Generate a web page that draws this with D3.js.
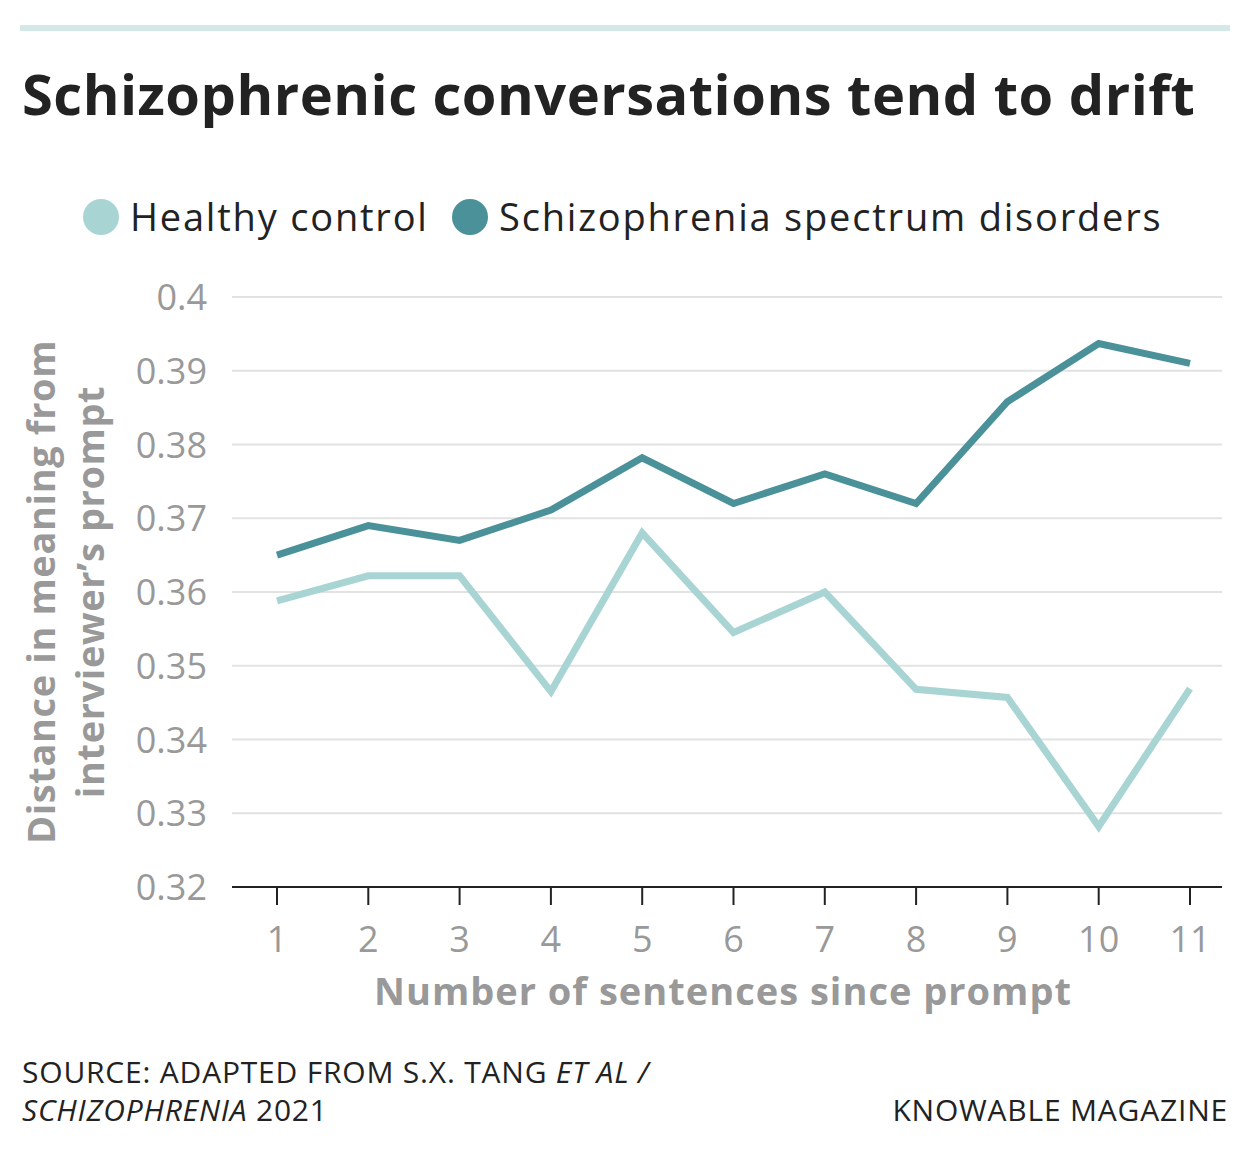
<!DOCTYPE html><html><head><meta charset="utf-8">
<script src="https://cdn.jsdelivr.net/npm/d3@7"></script>
<style>body{margin:0;background:#fff}</style></head><body>
<script>
const sentences=[1,2,3,4,5,6,7,8,9,10,11];
const healthy=[0.3588,0.3622,0.3622,0.3465,0.3680,0.3545,0.3600,0.3468,0.3457,0.3282,0.3469];
const schizo=[0.3650,0.3690,0.3670,0.3711,0.3782,0.3720,0.3760,0.3720,0.3858,0.3937,0.3910];
const yTicks=[0.32,0.33,0.34,0.35,0.36,0.37,0.38,0.39,0.4];
const seriesNames=["Healthy control","Schizophrenia spectrum disorders"];
const colors=["#a8d5d3","#4a9199"];
const F="'Open Sans', Lato, sans-serif";
const svg=d3.select("body").append("svg").attr("width",1250).attr("height",1149);
svg.append("rect").attr("x",20).attr("y",25).attr("width",1210).attr("height",6).attr("fill","#d3e9e7");
svg.append("text").attr("x",22).attr("y",115).attr("font-family",F).attr("font-weight",700).attr("font-size",56).attr("letter-spacing",0.5).attr("fill","#222").text("Schizophrenic conversations tend to drift");
const lg=[{x:101,tx:130},{x:470,tx:499}];
seriesNames.forEach((n,i)=>{
 svg.append("circle").attr("cx",lg[i].x).attr("cy",217).attr("r",18).attr("fill",colors[i]);
 svg.append("text").attr("x",lg[i].tx).attr("y",231).attr("font-family",F).attr("font-size",38).attr("letter-spacing",1.8).attr("fill","#222").text(n);
});
const x=d3.scaleLinear().domain([1,11]).range([277,1190]);
const y=d3.scaleLinear().domain([0.32,0.4]).range([887,297]);
yTicks.forEach(t=>{
 if(t>0.32) svg.append("line").attr("x1",232).attr("x2",1222).attr("y1",y(t)).attr("y2",y(t)).attr("stroke","#e2e2e2").attr("stroke-width",2);
 svg.append("text").attr("x",207).attr("y",y(t)+13).attr("text-anchor","end").attr("font-family",F).attr("font-size",36).attr("fill","#999").text(+t.toFixed(2));
});
svg.append("line").attr("x1",232).attr("x2",1222).attr("y1",887).attr("y2",887).attr("stroke","#222").attr("stroke-width",2);
sentences.forEach(s=>{
 svg.append("line").attr("x1",x(s)).attr("x2",x(s)).attr("y1",887).attr("y2",905).attr("stroke","#222").attr("stroke-width",2);
 svg.append("text").attr("x",x(s)).attr("y",952).attr("text-anchor","middle").attr("font-family",F).attr("font-size",36).attr("fill","#999").text(s);
});
const line=d3.line().x((d,i)=>x(sentences[i])).y(d=>y(d));
[healthy,schizo].forEach((s,i)=>svg.append("path").attr("d",line(s)).attr("fill","none").attr("stroke",colors[i]).attr("stroke-width",7));
svg.append("text").attr("x",723).attr("y",1005).attr("text-anchor","middle").attr("font-family",F).attr("font-weight",700).attr("font-size",38).attr("letter-spacing",1).attr("fill","#999").text("Number of sentences since prompt");
const yt=svg.append("text").attr("transform","translate(0,592) rotate(-90)").attr("text-anchor","middle").attr("font-family",F).attr("font-weight",700).attr("font-size",38).attr("letter-spacing",0.6).attr("fill","#999");
yt.append("tspan").attr("x",0).attr("y",55).text("Distance in meaning from");
yt.append("tspan").attr("x",0).attr("y",104).text("interviewer’s prompt");
const s1=svg.append("text").attr("x",22).attr("y",1083).attr("font-family",F).attr("font-size",30).attr("letter-spacing",0.8).attr("fill","#222");
s1.append("tspan").text("SOURCE: ADAPTED FROM S.X. TANG ");s1.append("tspan").attr("font-style","italic").text("ET AL /");
const s2=svg.append("text").attr("x",22).attr("y",1121).attr("font-family",F).attr("font-size",30).attr("letter-spacing",0.8).attr("fill","#222");
s2.append("tspan").attr("font-style","italic").text("SCHIZOPHRENIA");s2.append("tspan").text(" 2021");
svg.append("text").attr("x",1228).attr("y",1121).attr("text-anchor","end").attr("font-family",F).attr("font-size",30).attr("letter-spacing",0.8).attr("fill","#222").text("KNOWABLE MAGAZINE");
</script></body></html>
